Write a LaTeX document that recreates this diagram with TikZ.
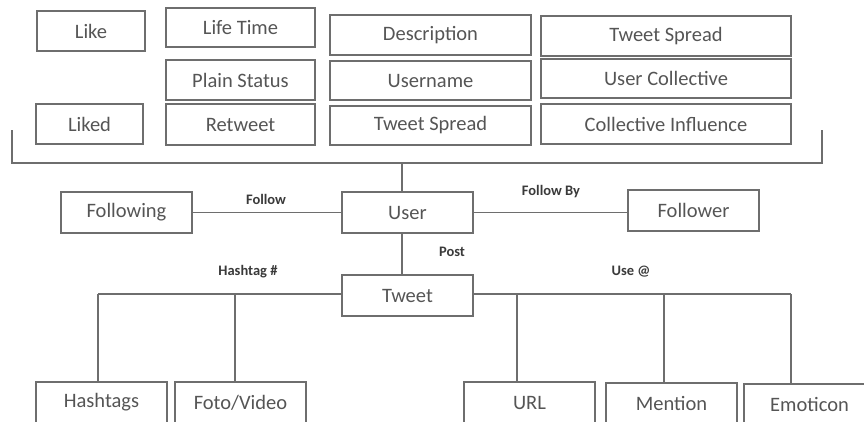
\documentclass[tikz,border=0pt]{standalone}
\usepackage{fontspec}
\setmainfont{Carlito}
\definecolor{txt}{HTML}{555555}
\definecolor{lbl}{HTML}{3A3A3A}
\definecolor{edge}{HTML}{6E6E6E}
\tikzset{
  box/.style={draw=edge, line width=1.2pt, inner sep=0pt, text=txt,
    font=\fontsize{20.5}{22}\selectfont, minimum height=40pt},
  rel/.style={text=lbl, font=\bfseries\fontsize{14.5}{16}\selectfont, inner sep=0pt},
  link/.style={draw=edge, line width=1.2pt},
}
\begin{document}
\begin{tikzpicture}[x=1pt,y=-1pt]
\useasboundingbox (0,0) rectangle (864,421);
\clip (0,0) rectangle (864,421);

% attribute boxes
\node[box, minimum width=108pt] (like)   at (91,31)    {Like};
\node[box, minimum width=149pt, minimum height=39pt] (life) at (240.5,27.5) {Life Time};
\node[box, minimum width=201pt] (desc)   at (430.5,35) {Description};
\node[box, minimum width=250pt] (spreadA) at (666,36)  {Tweet Spread};
\node[box, minimum width=149pt] (plain)  at (240.5,80) {Plain Status};
\node[box, minimum width=201pt, minimum height=39pt] (uname) at (430.5,80.5) {Username};
\node[box, minimum width=250pt, minimum height=39pt] (ucoll) at (666,78.5) {User Collective};
\node[box, minimum width=107pt] (liked)  at (89.5,124) {Liked};
\node[box, minimum width=149pt, minimum height=41pt] (retw) at (240.5,124.5) {Retweet};
\node[box, minimum width=201pt, minimum height=39pt] (spreadB) at (430.5,125.5) {Tweet Spread};
\node[box, minimum width=250pt] (cinfl)  at (666,124)  {Collective Influence};

% bracket grouping the attributes
\coordinate (brL)   at (12,130);
\coordinate (brR)   at (822,130);
\coordinate (brMid) at (402,163);
\draw[link] (brL) -- (brL |- brMid) -- (brR |- brMid) -- (brR);

% user level
\node[box, minimum width=131pt, minimum height=41pt] (following) at (126.5,212.5) {Following};
\node[box, minimum width=131pt, minimum height=41pt] (user)      at (407.5,212.5) {User};
\node[box, minimum width=131pt, minimum height=41pt] (follower)  at (693.5,210.5) {Follower};
\node[box, minimum width=131pt, minimum height=41pt] (tweet)     at (407.5,295.5) {Tweet};

\draw[link] (brMid) -- (brMid |- user.north);
\draw[link] (following.east) -- (user.west);
\draw[link] (user.east) -- (user.east -| follower.west);
\draw[link] (brMid |- user.south) -- (brMid |- tweet.north);

\node[rel] (lfollow)   at (266,199) {Follow};
\node[rel] (lfollowby) at (551,192) {Follow By};
\node[rel] (lpost)     at (452,252) {Post};
\node[rel] (lhash)     at (248,272) {Hashtag \#};
\node[rel] (luse)      at (631,272) {Use @};

% tweet components
\node[box, minimum width=131pt, minimum height=41pt] (hashtags) at (101.5,402.5) {Hashtags};
\node[box, minimum width=131pt, minimum height=41pt] (foto)     at (240.5,402.5) {Foto/Video};
\node[box, minimum width=131pt, minimum height=41pt] (url)      at (529.5,402.5) {URL};
\node[box, minimum width=131pt, minimum height=41pt] (mention)  at (671.5,403.5) {Mention};
\node[box, minimum width=131pt, minimum height=41pt] (emot)     at (809.5,404.5) {Emoticon};

\coordinate (busL) at (98,294);
\coordinate (busR) at (791,294);
\coordinate (tFoto) at (235,294);
\coordinate (tUrl)  at (517,294);
\coordinate (tMent) at (664,294);
\draw[link] (busL) -- (busL -| tweet.west);
\draw[link] (busR) -- (busR -| tweet.east);
\draw[link] (busL) -- (busL |- hashtags.north);
\draw[link] (tFoto) -- (tFoto |- foto.north);
\draw[link] (tUrl) -- (tUrl |- url.north);
\draw[link] (tMent) -- (tMent |- mention.north);
\draw[link] (busR) -- (busR |- emot.north);
\end{tikzpicture}
\end{document}
